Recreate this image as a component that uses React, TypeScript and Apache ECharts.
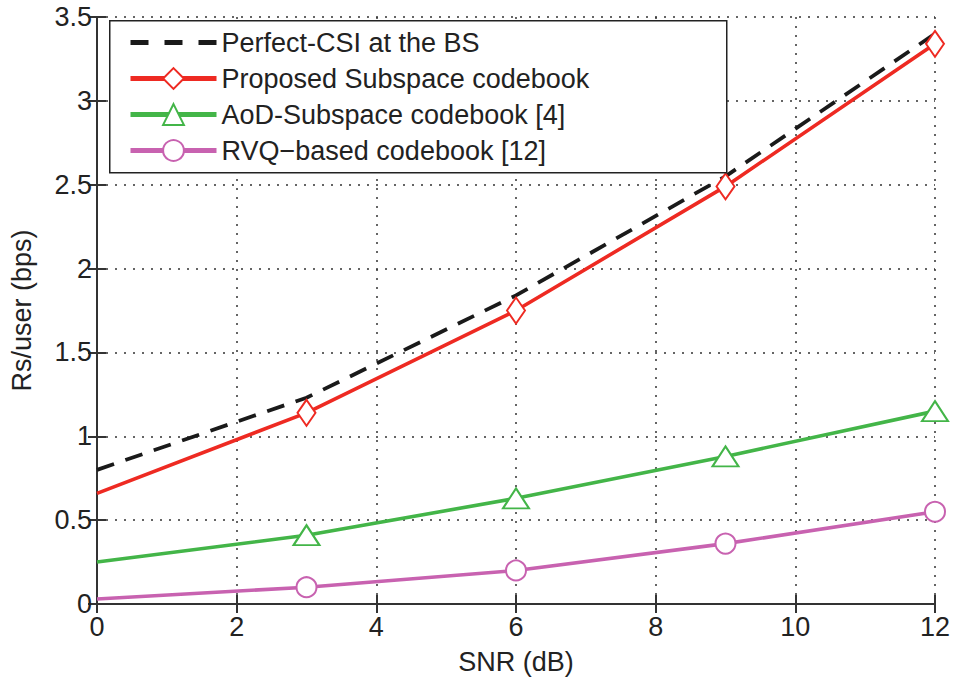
import React, { useEffect, useRef } from "react";
import * as echarts from "echarts";

const snr = [0, 3, 6, 9, 12];
const perfectCSI = [0.8, 1.23, 1.84, 2.55, 3.4];
const proposed = [0.66, 1.14, 1.75, 2.49, 3.34];
const aodSubspace = [0.25, 0.41, 0.63, 0.88, 1.15];
const rvqBased = [0.03, 0.1, 0.2, 0.36, 0.55];

const seriesNames = [
  "Perfect-CSI at the BS",
  "Proposed Subspace codebook",
  "AoD-Subspace codebook [4]",
  "RVQ\u2212based codebook [12]",
];

const FONT = "'Liberation Sans', Arial, sans-serif";
const TXT = "#222";

// no marker at SNR = 0 (as in the reference)
const pairs = (ys: number[]) =>
  snr.map((x, i) => (x === 0 ? { value: [x, ys[i]], symbol: "none" } : { value: [x, ys[i]] }));

export default function App() {
  const ref = useRef<HTMLDivElement>(null);
  useEffect(() => {
    if (!ref.current) return;
    const chart = echarts.init(ref.current, null, { renderer: "svg" });
    const gridLine = { show: true, lineStyle: { color: "#333", width: 1.5, type: [2, 7] } };
    const frame = { show: true, lineStyle: { color: "#333", width: 2 } };
    const tick = { show: true, inside: true, length: 9, lineStyle: { color: "#333", width: 2 } };
    chart.setOption({
      animation: false,
      backgroundColor: "#fff",
      textStyle: { fontFamily: FONT },
      grid: { left: 97, right: 19, top: 17, bottom: 78, show: false, outerBoundsMode: "none", containLabel: false },
      legend: {
        orient: "vertical",
        left: 123,
        top: 24,
        z: 20,
        itemWidth: 86,
        itemHeight: 26,
        itemGap: 9,
        data: [
          { name: seriesNames[0], itemStyle: { opacity: 0 }, lineStyle: { width: 5, type: [18, 16] } },
          { name: seriesNames[1], lineStyle: { width: 5 } },
          { name: seriesNames[2], lineStyle: { width: 5 } },
          { name: seriesNames[3], lineStyle: { width: 5 } },
        ],
        textStyle: { fontSize: 27, color: TXT, fontFamily: FONT },
      },
      graphic: [
        {
          type: "rect",
          left: 109,
          top: 20,
          shape: { width: 617, height: 152 },
          style: { fill: "#fff", stroke: "#222", lineWidth: 1.5 },
          z: 5,
        },
      ],
      xAxis: [
        {
          type: "value",
          min: 0,
          max: 12,
          interval: 2,
          name: "SNR (dB)",
          nameLocation: "middle",
          nameGap: 44,
          nameTextStyle: { fontSize: 27, color: TXT, fontFamily: FONT },
          axisLine: frame,
          axisTick: tick,
          axisLabel: { fontSize: 27, color: TXT, margin: 9, fontFamily: FONT },
          splitLine: gridLine,
        },
        {
          type: "value",
          position: "top",
          min: 0,
          max: 12,
          interval: 2,
          axisLine: frame,
          axisTick: tick,
          axisLabel: { show: false },
          splitLine: { show: false },
        },
      ],
      yAxis: [
        {
          type: "value",
          min: 0,
          max: 3.5,
          interval: 0.5,
          name: "Rs/user (bps)",
          nameLocation: "middle",
          nameGap: 62,
          nameTextStyle: { fontSize: 27, color: TXT, fontFamily: FONT },
          axisLine: frame,
          axisTick: tick,
          axisLabel: { fontSize: 27, color: TXT, margin: 5, fontFamily: FONT },
          splitLine: gridLine,
        },
        {
          type: "value",
          position: "right",
          min: 0,
          max: 3.5,
          interval: 0.5,
          axisLine: frame,
          axisTick: tick,
          axisLabel: { show: false },
          splitLine: { show: false },
        },
      ],
      series: [
        {
          name: seriesNames[0],
          type: "line",
          data: pairs(perfectCSI),
          symbol: "none",
          lineStyle: { color: "#1a1a1a", width: 3.8, type: [18, 12] },
          itemStyle: { color: "#1a1a1a" },
          z: 3,
        },
        {
          name: seriesNames[1],
          type: "line",
          data: pairs(proposed),
          symbol: "emptyDiamond",
          symbolSize: [18, 26],
          lineStyle: { color: "#ee2a22", width: 3.6 },
          itemStyle: { color: "#ee2a22", borderColor: "#ee2a22", borderWidth: 2.5 },
          z: 4,
        },
        {
          name: seriesNames[2],
          type: "line",
          data: pairs(aodSubspace),
          symbol: "emptyTriangle",
          symbolSize: [26, 20],
          lineStyle: { color: "#43b548", width: 3.6 },
          itemStyle: { color: "#43b548", borderColor: "#43b548", borderWidth: 2.5 },
          z: 4,
        },
        {
          name: seriesNames[3],
          type: "line",
          data: pairs(rvqBased),
          symbol: "emptyCircle",
          symbolSize: 20,
          lineStyle: { color: "#c862b0", width: 3.6 },
          itemStyle: { color: "#c862b0", borderColor: "#c862b0", borderWidth: 2.5 },
          z: 4,
        },
      ],
    });
    return () => chart.dispose();
  }, []);
  return (
    <div
      ref={ref}
      style={{ position: "fixed", left: 0, top: 0, width: 954, height: 682 }}
    />
  );
}
